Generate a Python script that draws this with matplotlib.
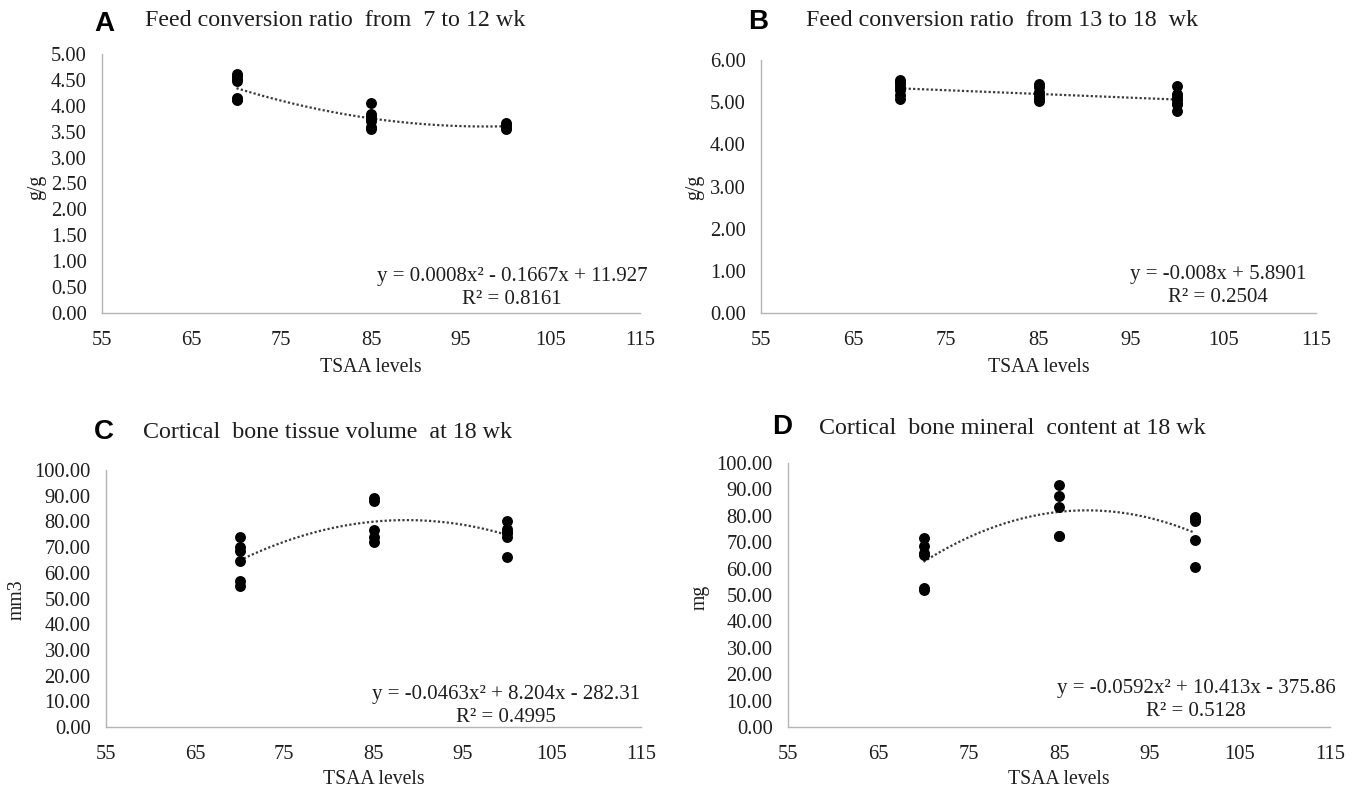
import numpy as np
import matplotlib
matplotlib.use("Agg")
import matplotlib.pyplot as plt

W, H = 1359, 792

# ---------------- data ----------------
levels = [70, 85, 100]

a_70 = [4.62, 4.57, 4.52, 4.47, 4.15, 4.12, 4.13, 4.14]
a_85 = [4.05, 3.85, 3.80, 3.75, 3.70, 3.55, 3.60]
a_100 = [3.67, 3.62, 3.58, 3.55]

b_70 = [5.52, 5.47, 5.42, 5.35, 5.28, 5.18, 5.07]
b_85 = [5.42, 5.35, 5.25, 5.18, 5.10, 5.05, 5.02]
b_100 = [5.38, 5.20, 5.12, 5.05, 4.95, 4.95, 4.78]

c_70 = [74.0, 70.0, 68.5, 64.5, 57.0, 55.0]
c_85 = [89.0, 88.0, 76.5, 74.0, 72.0]
c_100 = [80.0, 77.0, 76.0, 75.5, 74.0, 66.0]

d_70 = [71.5, 68.5, 66.0, 65.0, 52.5, 51.8]
d_85 = [91.5, 87.5, 83.5, 72.5, 72.5]
d_100 = [79.5, 79.0, 78.0, 71.0, 60.5]

x_ticks = [55, 65, 75, 85, 95, 105, 115]

panels = [
    dict(letter="A", title="Feed conversion ratio  from  7 to 12 wk", ylabel="g/g",
         groups=[a_70, a_85, a_100], degree=2, ymax=5.0, ystep=0.5,
         eq="y = 0.0008x² - 0.1667x + 11.927", r2="R² = 0.8161"),
    dict(letter="B", title="Feed conversion ratio  from 13 to 18  wk", ylabel="g/g",
         groups=[b_70, b_85, b_100], degree=1, ymax=6.0, ystep=1.0,
         eq="y = -0.008x + 5.8901", r2="R² = 0.2504"),
    dict(letter="C", title="Cortical  bone tissue volume  at 18 wk", ylabel="mm3",
         groups=[c_70, c_85, c_100], degree=2, ymax=100.0, ystep=10.0,
         eq="y = -0.0463x² + 8.204x - 282.31", r2="R² = 0.4995"),
    dict(letter="D", title="Cortical  bone mineral  content at 18 wk", ylabel="mg",
         groups=[d_70, d_85, d_100], degree=2, ymax=100.0, ystep=10.0,
         eq="y = -0.0592x² + 10.413x - 375.86", r2="R² = 0.5128"),
]

# ---------------- layout (pixel boxes: left, right, top, bottom) ----------------
boxes = [(102, 640, 54, 313), (761, 1316, 60, 313), (106, 641, 470, 727), (788, 1330, 463, 727)]
letter_pos = [(104, 24), (758, 22), (104, 432), (782, 427)]
title_pos = [(145, 21), (806, 21), (143, 433), (819, 428)]
ylabel_pos = [(37, 187), (695, 187), (17, 600), (700, 597)]
xlabel_y = [368, 368, 780, 780]
eq_pos = [(512, 277, 300), (1218, 275, 298), (506, 695, 718), (1196, 688, 712)]

serif = ["Liberation Serif", "DejaVu Serif"]
plt.rcParams["font.family"] = serif
TXT = "#1e1e1e"

fig = plt.figure(figsize=(W / 100, H / 100), dpi=100)
fig.patch.set_facecolor("white")

def fx(px):
    return px / W

def fy(py):
    return 1 - py / H

for p, box, lp, tp, ylp, xly, ep in zip(panels, boxes, letter_pos, title_pos,
                                          ylabel_pos, xlabel_y, eq_pos):
    l, r, t, b = box
    ax = fig.add_axes([fx(l), fy(b), (r - l) / W, (b - t) / H])
    xs_all, ys_all = [], []
    for lvl, vals in zip(levels, p["groups"]):
        xs_all += [lvl] * len(vals)
        ys_all += list(vals)
    xs_all = np.array(xs_all, float)
    ys_all = np.array(ys_all, float)
    ax.scatter(xs_all, ys_all, s=62, color="black", zorder=3, linewidths=0)
    coef = np.polyfit(xs_all, ys_all, p["degree"])
    xf = np.linspace(min(levels), max(levels), 200)
    ax.plot(xf, np.polyval(coef, xf), linestyle=(0, (1, 1)), color="#3a3a3a",
            lw=1.6, zorder=2)

    ax.set_xlim(55, 115)
    ax.set_ylim(0, p["ymax"])
    ax.set_xticks(x_ticks)
    yt = np.arange(0, p["ymax"] + p["ystep"] / 2, p["ystep"])
    ax.set_yticks(yt)
    ax.set_yticklabels([f"{v:.2f}" for v in yt])
    for s in ["top", "right"]:
        ax.spines[s].set_visible(False)
    for s in ["left", "bottom"]:
        ax.spines[s].set_color("#b5b5b5")
        ax.spines[s].set_linewidth(1.0)
    ax.tick_params(axis="both", length=0, labelsize=14.8, colors=TXT)
    ax.tick_params(axis="x", pad=13)
    ax.tick_params(axis="y", pad=11)
    ax.patch.set_alpha(0)

    ax.set_xlabel("TSAA levels", fontsize=14.2, color=TXT)
    ax.xaxis.label.set_verticalalignment("center")
    ax.xaxis.set_label_coords(0.5, (b - xly) / (b - t))
    ax.set_ylabel(p["ylabel"], fontsize=14.2, color=TXT)
    ax.yaxis.label.set_verticalalignment("center")
    ax.yaxis.set_label_coords((ylp[0] - l) / (r - l), (b - ylp[1]) / (b - t))

    ex, ey1, ey2 = ep
    fig.text(fx(ex), fy(ey1), p["eq"], ha="center", va="center", fontsize=15,
             color=TXT)
    fig.text(fx(ex), fy(ey2), p["r2"], ha="center", va="center", fontsize=15,
             color=TXT)

    fig.text(fx(lp[0]), fy(lp[1]), p["letter"], ha="center", va="center",
             fontsize=20, fontweight="bold",
             family=["Liberation Sans", "DejaVu Sans"], color="black")
    fig.text(fx(tp[0]), fy(tp[1]), p["title"], ha="left", va="center",
             fontsize=17.3, color=TXT)

fig.savefig("out.png", dpi=100, facecolor="white")
